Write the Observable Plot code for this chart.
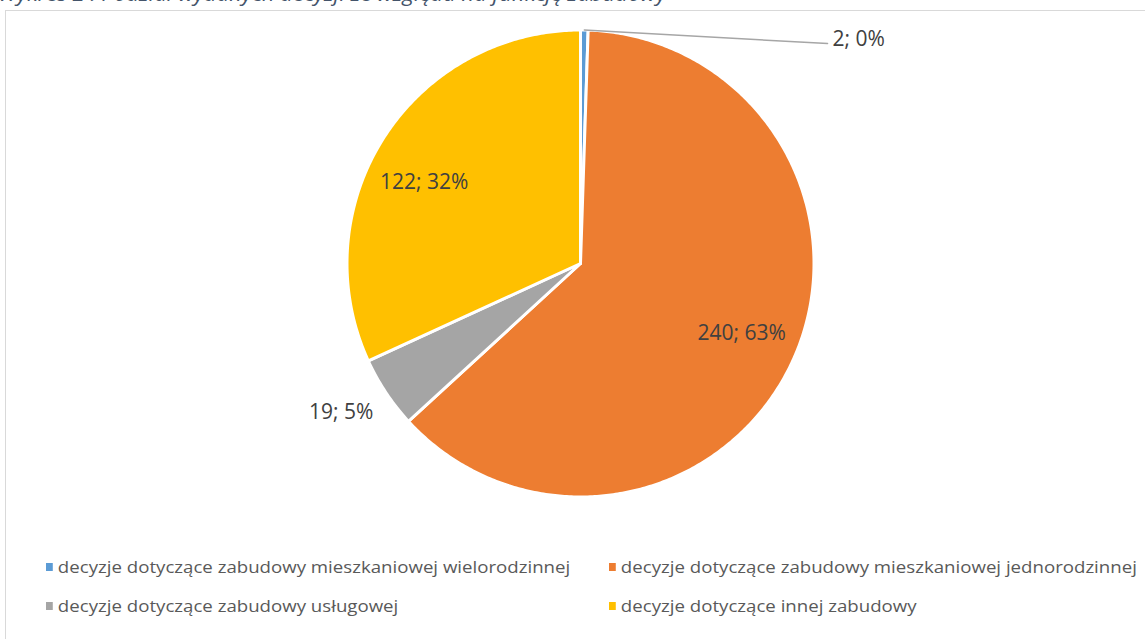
<!DOCTYPE html>
<html><head><meta charset="utf-8">
<script src="https://cdn.jsdelivr.net/npm/d3@7"></script>
<script src="https://cdn.jsdelivr.net/npm/@observablehq/plot@0.6"></script>
<style>
body{margin:0;background:#fff;font-family:"Open Sans",sans-serif;}
#wrap{position:relative;width:1145px;height:639px;overflow:hidden;}
#title{position:absolute;left:-2px;top:-20px;font-size:20px;font-style:italic;color:#44546A;white-space:nowrap;transform:scaleX(1.1);transform-origin:0 0;}
#frame{position:absolute;left:5px;top:10px;width:1160px;height:660px;border:1px solid #d9d9d9;box-sizing:border-box;}
#chart{position:absolute;left:0;top:0;}
.leg{position:absolute;font-size:16.5px;color:#595959;white-space:nowrap;display:flex;align-items:center;transform:scaleX(1.13);transform-origin:0 50%;}
.leg i{display:inline-block;width:5.5px;height:8px;margin-right:5px;}
</style></head>
<body><div id="wrap"><div id="title">Wykres 2 : Podział wydanych decyzji ze względu na funkcję zabudowy</div><div id="frame"></div><div id="chart"></div></div>
<script>
const categories = [
  "decyzje dotyczące zabudowy mieszkaniowej wielorodzinnej",
  "decyzje dotyczące zabudowy mieszkaniowej jednorodzinnej",
  "decyzje dotyczące zabudowy usługowej",
  "decyzje dotyczące innej zabudowy"
];
const values = [2, 240, 19, 122];
const percents = ["0%", "63%", "5%", "32%"];
const colors = ["#5B9BD5", "#ED7D31", "#A5A5A5", "#FFC000"];

const W = 1145, H = 530, R = 233.5, CX = 580, CY = 263;
const arcs = d3.pie().sort(null).value(d => d)(values);
const pts = [];
arcs.forEach((a, i) => {
  pts.push({cat: categories[i], u: 0, v: 0});
  const n = Math.max(4, Math.ceil((a.endAngle - a.startAngle) / 0.01));
  for (let k = 0; k <= n; k++) {
    const t = a.startAngle + (a.endAngle - a.startAngle) * k / n;
    pts.push({cat: categories[i], u: Math.sin(t), v: Math.cos(t)});
  }
  pts.push({cat: categories[i], u: 0, v: 0});
});
const labels = arcs.map((a, i) => {
  const m = (a.startAngle + a.endAngle) / 2;
  return {cat: categories[i], text: `${values[i]}; ${percents[i]}`, m, i};
});
// label placement per slice: [radial factor, dx, dy]
const place = [null, [0.75, 2, -3], [1.2, -6, -6], [0.75, -9, 13]];
const labelMarks = labels.filter(d => place[d.i]).map(d => {
  const [f, dx, dy] = place[d.i];
  return Plot.text([{...d, u: f*Math.sin(d.m), v: f*Math.cos(d.m)}],
    {x: "u", y: "v", text: "text", fontSize: 21, fill: "#404040", fontFamily: "Open Sans", dx, dy});
});
const small = labels.filter(d => !place[d.i]);
const leader = small.flatMap(d => [
  {u: Math.sin(d.m), v: 1.0, cat: d.cat},
  {u: 1.058, v: 0.942, cat: d.cat}
]);
const smallText = small.map(d => ({...d, u: 1.079, v: 0.962}));

const chart = Plot.plot({
  width: W, height: H,
  marginTop: 0, marginBottom: 0, marginLeft: 0, marginRight: 0,
  x: {domain: [-CX/R, (W-CX)/R], range: [0, W], axis: null},
  y: {domain: [-(H-CY)/R, CY/R], range: [H, 0], axis: null},
  color: {domain: categories, range: colors},
  style: {background: "transparent", overflow: "visible"},
  marks: [
    Plot.line(pts, {x: "u", y: "v", z: "cat", fill: "cat", stroke: "white", strokeWidth: 3, strokeLinejoin: "round", curve: "linear"}),
    Plot.line(leader, {x: "u", y: "v", z: "cat", stroke: "#A6A6A6", strokeWidth: 1.5}),
    ...labelMarks,
    Plot.text(smallText, {x: "u", y: "v", text: "text", fontSize: 21, fill: "#404040", textAnchor: "start", fontFamily: "Open Sans"})
  ]
});
document.getElementById("chart").appendChild(chart);

const legPos = [[46, 567], [609, 567], [46, 606], [609, 606]];
const wrap = document.getElementById("wrap");
categories.forEach((c, i) => {
  const el = document.createElement("div");
  el.className = "leg";
  el.style.left = legPos[i][0] + "px";
  el.style.top = (legPos[i][1] - 12) + "px";
  el.innerHTML = `<i style="background:${colors[i]}"></i>${c}`;
  wrap.appendChild(el);
});
</script></body></html>
